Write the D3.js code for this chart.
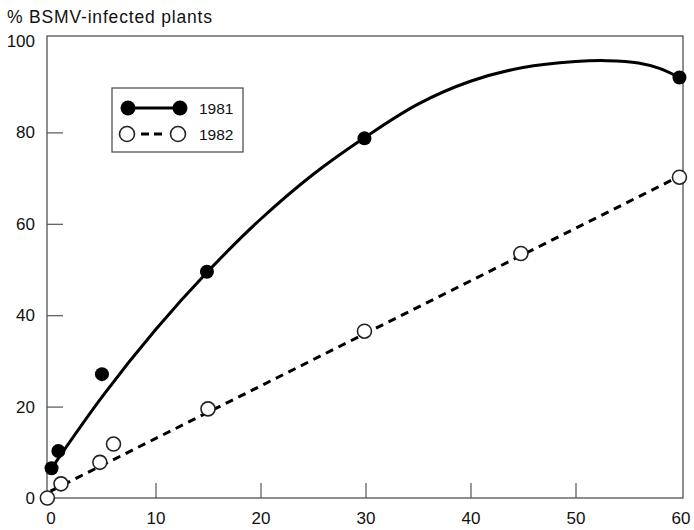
<!DOCTYPE html>
<html><head><meta charset="utf-8">
<script src="https://cdn.jsdelivr.net/npm/d3@7"></script>
<style>body{margin:0;background:#fff}svg{display:block}text{font-family:"Liberation Sans",Arial,sans-serif;fill:#111}</style>
</head><body><svg id="c" width="694" height="530"></svg>
<script>
// data
const xTicks = [0,10,20,30,40,50,60];
const yTicks = [0,20,40,60,80,100];
const pts1981 = [[0.1,6.5],[0.75,10.3],[4.9,27.1],[14.9,49.5],[29.9,78.7],[59.9,92]];
const pts1982 = [[-0.3,0],[1.0,3.1],[4.7,7.8],[6.0,11.8],[15.0,19.5],[29.9,36.5],[44.8,53.5],[59.9,70.2]];
const curve1981 = [[0.1,6.5],[5,22.4],[10,36.8],[15,49.6],[20,61],[25,70.8],[30,79],[35,86.2],[40,91.2],[45,94.2],[50,95.5],[53,95.7],[56,95.2],[58,94],[59.9,92]];
const fit1982 = [[0,1.5],[59.9,70.4]];
const legendLabels = ["1981","1982"];

const svg = d3.select("#c");
const x = d3.scaleLinear().domain([0,60]).range([50.5,680.5]);
const y = d3.scaleLinear().domain([0,100]).range([498,41]);

// frame
svg.append("rect").attr("x",47).attr("y",36).attr("width",636).attr("height",462)
  .attr("fill","none").attr("stroke","#444").attr("stroke-width",1.2);

// axes
const gx = svg.append("g").attr("transform","translate(0,498)")
  .call(d3.axisBottom(x).tickValues(xTicks).tickSize(-15).tickPadding(14));
const gy = svg.append("g").attr("transform","translate(47,0)")
  .call(d3.axisLeft(y).tickValues(yTicks).tickSize(-16).tickPadding(12));
[gx,gy].forEach(g=>{
  g.select(".domain").remove();
  g.selectAll(".tick line").attr("stroke","#555").attr("stroke-width",1.2);
  g.selectAll(".tick text").attr("font-size",17).attr("fill","#111")
   .attr("font-family","'Liberation Sans',Arial,sans-serif");
});
gy.selectAll(".tick").filter(d=>d===0||d===100).select("line").remove();
gx.selectAll(".tick").filter(d=>d===0||d===60).select("line").remove();

// title
svg.append("text").attr("x",7).attr("y",23).attr("font-size",17.5)
  .attr("textLength",205).attr("lengthAdjust","spacing").text("% BSMV-infected plants");

// lines
const line = d3.line().x(d=>x(d[0])).y(d=>y(d[1]));
svg.append("path").datum(fit1982).attr("d",line).attr("fill","none")
  .attr("stroke","#000").attr("stroke-width",3).attr("stroke-dasharray","8,6");
svg.append("path").datum(curve1981).attr("d",line.curve(d3.curveCatmullRom.alpha(0.5))).attr("fill","none")
  .attr("stroke","#000").attr("stroke-width",3);

// points
svg.append("g").selectAll("circle").data(pts1982).join("circle")
  .attr("cx",d=>x(d[0])).attr("cy",d=>y(d[1])).attr("r",7)
  .attr("fill","#fff").attr("stroke","#222").attr("stroke-width",1.6);
svg.append("g").selectAll("circle").data(pts1981).join("circle")
  .attr("cx",d=>x(d[0])).attr("cy",d=>y(d[1])).attr("r",7).attr("fill","#000");

// legend
const lg = svg.append("g");
lg.append("rect").attr("x",112).attr("y",88).attr("width",131).attr("height",64)
  .attr("fill","#fff").attr("stroke","#444").attr("stroke-width",1.2);
lg.append("line").attr("x1",128).attr("x2",180).attr("y1",108).attr("y2",108).attr("stroke","#000").attr("stroke-width",3);
lg.append("line").attr("x1",127).attr("x2",178).attr("y1",134).attr("y2",134).attr("stroke","#000").attr("stroke-width",3).attr("stroke-dasharray","0,14,8,5,8,20");
[128,180].forEach(cx=>lg.append("circle").attr("cx",cx).attr("cy",108).attr("r",7.5).attr("fill","#000"));
[127,178].forEach(cx=>lg.append("circle").attr("cx",cx).attr("cy",134).attr("r",7.5).attr("fill","#fff").attr("stroke","#222").attr("stroke-width",1.6));
legendLabels.forEach((t,i)=>lg.append("text").attr("x",199).attr("y",114+i*26).attr("font-size",15.5).text(t));
</script></body></html>
